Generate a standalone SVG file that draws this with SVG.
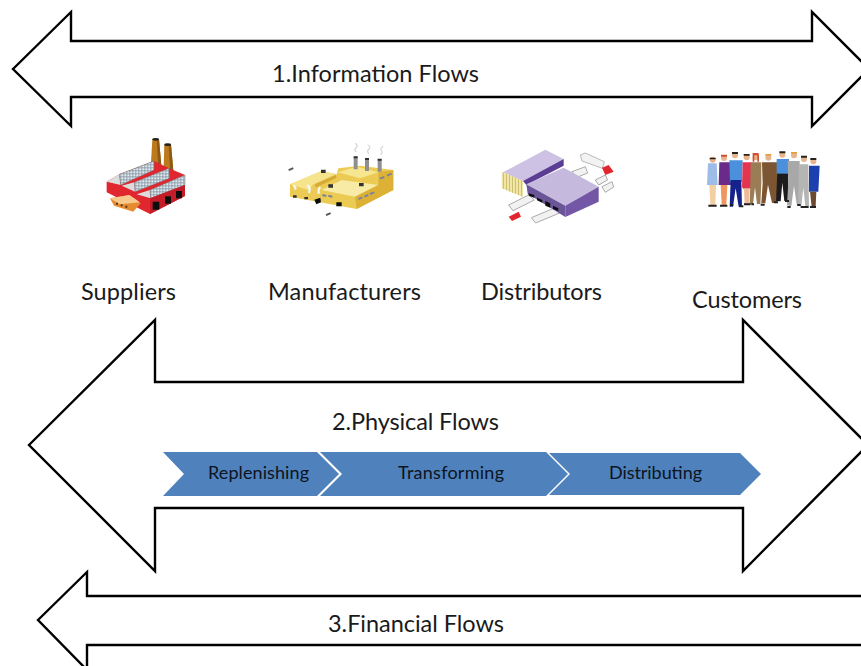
<svg xmlns="http://www.w3.org/2000/svg" width="861" height="666" viewBox="0 0 861 666">
<style>
.flow{fill:#fff;stroke:#000;stroke-width:2.4;stroke-linejoin:miter}
.t{font-family:"Lato","Open Sans","Liberation Sans",sans-serif;font-size:23.500px;fill:#1a1a1a}
.c{font-family:"Lato","Open Sans","Liberation Sans",sans-serif;font-size:18px;fill:#0b1420}
.chev{fill:#4f81bd}
</style>
<defs>
<filter id="soft" x="-10%" y="-10%" width="120%" height="120%"><feGaussianBlur stdDeviation="2.2"/></filter>
<pattern id="glass" width="9" height="9" patternUnits="userSpaceOnUse"><rect width="9" height="9" fill="#8fa0ac"/><rect x="1" y="1" width="6" height="6" fill="#e4edf2"/></pattern>
<pattern id="stripes" width="9" height="9" patternUnits="userSpaceOnUse"><rect width="9" height="9" fill="#f0e6a6"/><rect width="3" height="9" fill="#cfbf70"/></pattern>
</defs>
<rect width="861" height="666" fill="#fff"/>
<g id="connectors">
<path id="information-arrow" class="flow" d="M13 69 71 12V41H812V12L869 69 812 126V97H71V126Z"/>
<path id="physical-arrow" class="flow" d="M29 445 155 320V382H743V320L868 445 743 571V508H155V571Z"/>
<path id="financial-arrow" class="flow" d="M38 620 87 572V596H875V645H87V670Z"/>
</g>
<g id="supplier-icon" transform="translate(100 135) scale(.3333)" filter="url(#soft)">
<path d="M157 12h20l8 90h-33z" fill="#bd7a1c"/><path d="M193 28h20l9 102h-32z" fill="#bd7a1c"/>
<path d="M170 12h7l8 90h-10zM206 28h7l9 102h-10z" fill="#8d5a14"/>
<ellipse cx="167" cy="13" rx="10" ry="4" fill="#222"/><ellipse cx="203" cy="29" rx="10" ry="4" fill="#222"/>
<path d="M20 140 58 118 162 78 207 100 255 120V183L150 237 20 172Z" fill="#e0252f"/>
<path d="M20 140 58 118 62 150ZM65 152 103 142 105 170ZM110 178 150 165 152 190Z" fill="#dcdcdc"/>
<path d="M58 118 162 78V105L62 150ZM103 142 207 100 208 130 105 170ZM150 165 255 120V150L152 190Z" fill="url(#glass)" stroke="#777" stroke-width="1.500"/>
<path d="M150 190 255 150V183L150 237Z" fill="#c51d2b"/>
<path d="M158 200h20v24h-20zM195 184h18v22h-18zM228 168h18v22h-18z" fill="#111"/>
<path d="M30 190 88 180 122 205 100 230 42 212Z" fill="#e58c30"/><path d="M30 190 88 180 120 202 60 208Z" fill="#f8c98c"/>
<path d="M48 203h6v6h-6zM62 208h6v6h-6zM76 212h6v6h-6z" fill="#5a3818"/>
</g>
<g id="manufacturer-icon" transform="translate(285 135) scale(.3333)" filter="url(#soft)">
<path d="M15 148 110 108 155 118 160 100 225 92 325 105V165L215 222 15 185Z" fill="#eccb55"/>
<path d="M158 112 215 95 280 112 225 130Z" fill="#f6e68f"/>
<path d="M15 148 110 108 152 118 85 148 70 165Z" fill="#f6e48c"/>
<path d="M110 165 170 135 280 150 210 185Z" fill="#f8eba6"/>
<path d="M280 112 325 105V165L215 222 210 185 280 150Z" fill="#dcb136"/>
<path d="M152 120 90 148 92 158 155 128Z" fill="#d5ab34"/>
<path d="M206 65h12v38h-12zM240 70h12v38h-12zM278 72h12v38h-12z" fill="#8f8f8f"/>
<path d="M206 64h12v6h-12zM240 69h12v6h-12zM278 71h12v6h-12z" fill="#333"/>
<path d="M210 25q12 6 2 14 -5 6 2 12M248 30q12 6 2 14 -5 6 2 12M295 33q-12 8-5 14 3 6-3 12" fill="none" stroke="#d8d8d8" stroke-width="4"/>
<path d="M24 152q10 2 6 12M66 150q12 6 6 24M106 156q-8 8-4 20" fill="none" stroke="#f4f4f4" stroke-width="7"/>
<path d="M10 103 24 97 26 102 12 108ZM122 238 136 232 138 237 124 243Z" fill="#555"/>
<path d="M108 104h14v10h-14zM130 148h14v10h-14zM222 144h14v10h-14zM24 181h11v7h-11zM58 186h11v7h-11z" fill="#333"/>
<path d="M88 194 106 188 108 202 94 208ZM154 202h16v12h-16z" fill="#0d0d0d"/>
<path d="M112 180 124 183M130 182 142 185M220 192 232 187M238 185 250 180M255 177 268 172M285 131 298 126M306 122 320 116" fill="none" stroke="#7d8498" stroke-width="6"/>
</g>
<g id="distributor-icon" transform="translate(497 145) scale(.3333)" filter="url(#soft)">
<path d="M35 180 95 150 112 165 48 197ZM103 218 175 188 188 204 116 234ZM225 80 265 65 272 84 240 97ZM295 105 325 90 332 105 305 120ZM315 125 345 110 350 126 325 142Z" fill="#f2f2f2" stroke="#aaa" stroke-width="3"/>
<path d="M250 30 265 24 322 50 316 70 255 48Z" fill="#f2f2f2" stroke="#999" stroke-width="2"/>
<path d="M315 68 335 60 350 80 325 90Z" fill="#e0262f"/><path d="M35 215 65 200 72 215 45 228Z" fill="#e0262f"/>
<path d="M18 82 145 14 200 42 78 108Z" fill="#cdc2e3"/>
<path d="M14 80 78 108V156L14 130Z" fill="url(#stripes)"/>
<path d="M78 108 200 42V62L88 120Z" fill="#5b3e94"/>
<path d="M88 118 200 68 305 125 205 182Z" fill="#c6b9de"/>
<path d="M88 118 205 182V216L92 146Z" fill="#6a5598"/>
<path d="M205 182 305 125V170L205 216Z" fill="#7357a6"/>
<path d="M95 145 112 150 112 158 95 152ZM120 158 136 165V173L120 166ZM145 168 160 175V188L145 182ZM168 182 184 190V198L168 192Z" fill="#0d0d0d"/>
</g>
<g id="customer-icon" transform="translate(700 145) scale(.3333)" filter="url(#soft)">
<g fill="#e8b48e"><circle cx="38" cy="44" r="9"/><circle cx="72" cy="39" r="9"/><circle cx="105" cy="31" r="9"/><circle cx="140" cy="37" r="9"/><circle cx="167" cy="37" r="9"/><circle cx="205" cy="38" r="9"/><circle cx="247" cy="29" r="9"/><circle cx="282" cy="31" r="9"/><circle cx="312" cy="42" r="9"/><circle cx="340" cy="49" r="9"/></g>
<path d="M29 38h18v5h-18zM96 21h18v6h-18zM131 27h18v5h-18zM238 19h18v6h-18zM303 32h18v6h-18zM331 39h18v6h-18z" fill="#2a2018"/>
<path d="M63 29h18v6h-18zM158 24h18v7h-18zM158 30h5v20h-5zM172 30h5v20h-5z" fill="#d05030"/><path d="M196 27h18v5h-18zM273 21h18v5h-18z" fill="#e0a040"/>
<path d="M24 55h26l3 65h-32z" fill="#9dbde8"/><path d="M28 120h20l-2 60h-15z" fill="#f2cfa4"/>
<path d="M58 52h32l4 68h-38z" fill="#6a2a8a"/><path d="M62 120h20l-3 60h-14z" fill="#ee9860"/>
<path d="M88 46h40l-2 64h-36z" fill="#4c90dc"/><path d="M92 105h32l2 80h-10l-9-55-8 55h-10z" fill="#14248c"/>
<path d="M128 52h26l2 75-10 6h-14l-6-6z" fill="#e3344f"/><path d="M132 130h17l-2 48h-13z" fill="#eebb99"/>
<path d="M152 52h32v60l-3 65h-10l-6-50-6 50h-10l2-65z" fill="#9a7c55"/>
<path d="M186 52h48l2 62-8 60h-12l-12-55-8 56h-12l4-60z" fill="#7b5630"/>
<path d="M232 42h34l-2 42 3 84h-14l-6-55-5 56h-14l4-85z" fill="#1b1b1b"/><path d="M230 42h36v44h-36z" fill="#4c90dc"/>
<path d="M263 48h36l2 130-10 5-9-60-8 60-13-2 4-70z" fill="#a8a8a8"/>
<path d="M297 58h28l2 125h-11l-6-55-6 55h-10z" fill="#b5b5b5"/>
<path d="M327 62h32l-4 78h-28z" fill="#1e3fae"/><path d="M330 140h19l-2 45h-12z" fill="#6d4a30"/>
<path d="M25 182h25M60 182h22M90 180h10M118 184h12M132 178h20M154 178h8M182 179h12M222 172h12M255 168h12M262 186h10M292 180h10M302 186h24M330 186h18" stroke="#222" stroke-width="6" fill="none"/>
</g>
<g id="information-label"><text class="t" x="272" y="81.500" textLength="207">1.Information Flows</text></g>
<g id="suppliers"><text class="t" x="81" y="300" textLength="95">Suppliers</text></g>
<g id="manufacturers"><text class="t" x="268" y="300" textLength="153">Manufacturers</text></g>
<g id="distributors"><text class="t" x="481" y="300" textLength="121">Distributors</text></g>
<g id="customers"><text class="t" x="692" y="308" textLength="110">Customers</text></g>
<g id="physical-label"><text class="t" x="332" y="430" textLength="167">2.Physical Flows</text></g>
<g id="replenishing"><path class="chev" d="M163 452H317L339 474 317 496H163L184 474Z"/><text class="c" x="208" y="479" textLength="101">Replenishing</text></g>
<g id="transforming"><path class="chev" d="M320 452H546L568 474 546 496H320L342 474Z"/><text class="c" x="398" y="479" textLength="106">Transforming</text></g>
<g id="distributing"><path class="chev" d="M549 453H740L761 474 740 495H549L570 474Z"/><text class="c" x="609" y="479" textLength="93">Distributing</text></g>
<g id="financial-label"><text class="t" x="328" y="632" textLength="176">3.Financial Flows</text></g>
</svg>
